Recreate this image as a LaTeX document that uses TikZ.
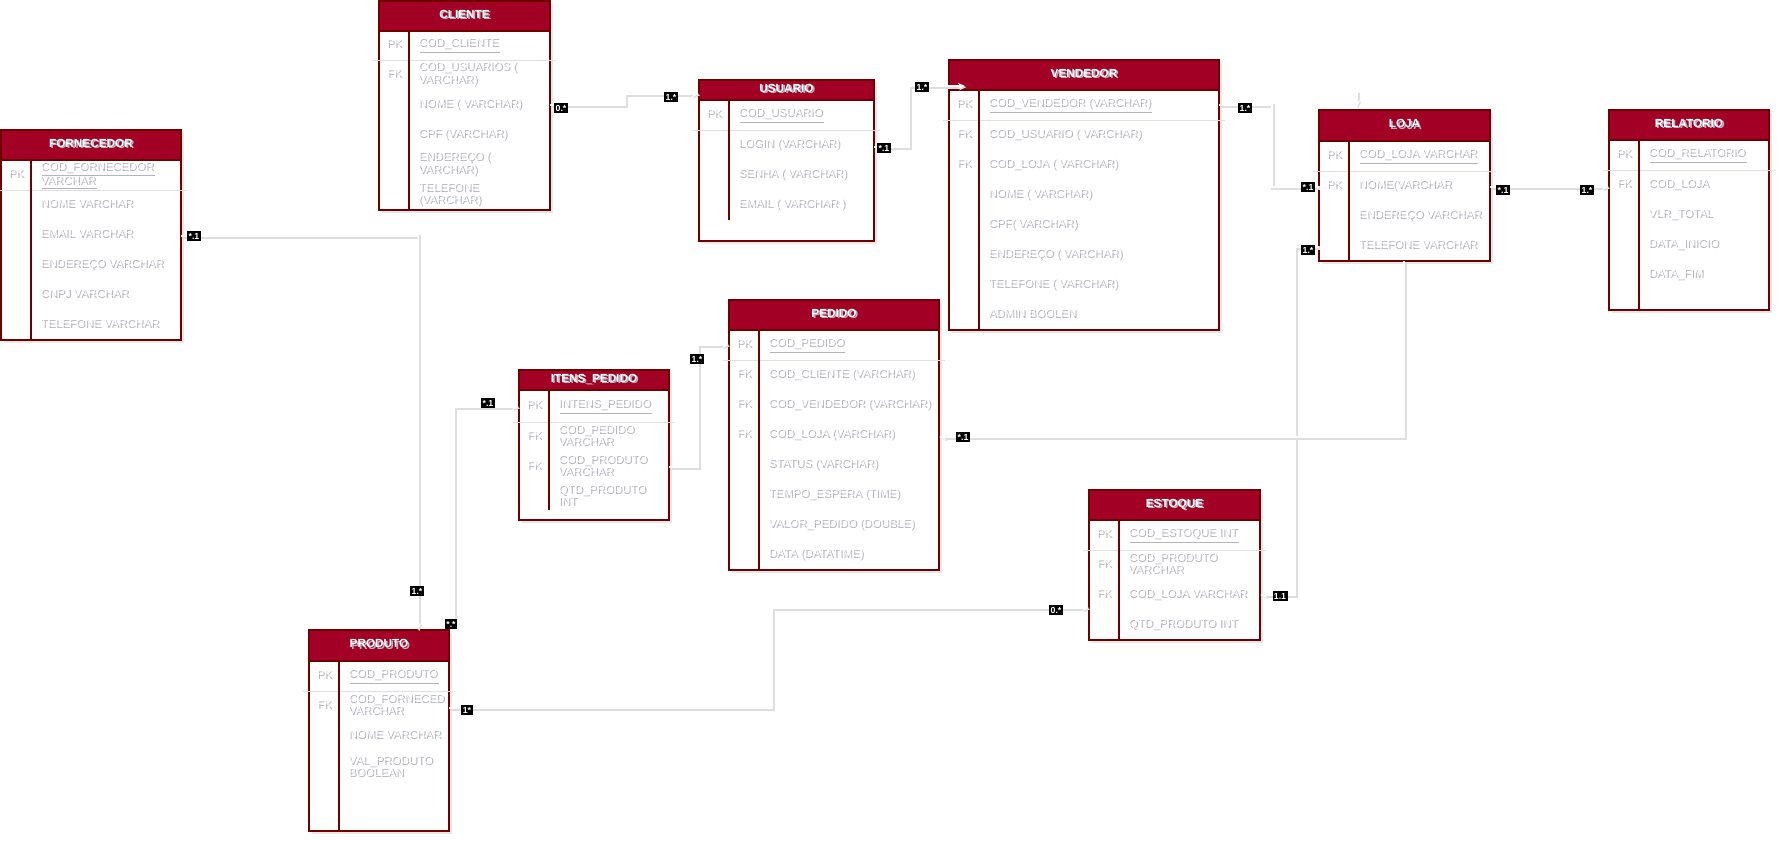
\documentclass[tikz,border=0pt]{standalone}
\usepackage{fontspec}
\setmainfont{Liberation Sans}
\usetikzlibrary{arrows.meta, shadows}
\definecolor{erred}{HTML}{A20025}
\definecolor{erborder}{HTML}{6F0000}
\definecolor{txtshadow}{HTML}{B4B4BE}

% text with a soft shadow under it
\newcommand\shtab[1]{\begin{tabular}{@{}l@{}}#1\end{tabular}}
\newcommand\sh[1]{\makebox[0pt][l]{\raisebox{-.9pt}{\kern.9pt\textcolor{txtshadow}{\shtab{#1}}}}\shtab{#1}}

% table frame: name, title, left, right, top, header bottom, key row bottom, bottom, divider end
\newcommand\ertable[9]{%
  \filldraw[tblbody] (#3,#5) rectangle (#4,#8);
  \filldraw[tblhead] (#3,#5) rectangle (#4,#6);
  \node[tbltitle] (#1) at ({(#3+#4)/2},{(#5+#6)/2}) {\sh{#2}};
  \draw[tblsep] ({#3-6},#7) -- ({#4+6},#7);
  \draw[tbldiv] ({#3+30},#6) -- ({#3+30},#9);
}
% table rows: name, key column x, list key/field/y
\newcommand\errows[3]{%
  \foreach \k/\f/\y [count=\i] in {#3} {
    \node[keytxt] (#1-k\i) at (#2,\y) {\sh{\k}};
    \node[fldtxt] (#1-\i) at ({#2+24},\y) {\sh{\f}};
  }
}

\begin{document}
\begin{tikzpicture}[x=0.02cm, y=-0.02cm,
  tblbody/.style={fill=white, draw=erborder, line width=.6pt,
    drop shadow={shadow xshift=1.5pt, shadow yshift=-1.5pt, opacity=.18}},
  tblhead/.style={fill=erred, draw=erborder, line width=.6pt},
  tbltitle/.style={text=white, font=\fontsize{6.7}{8}\selectfont\bfseries, inner sep=0pt},
  tblsep/.style={draw=black!12, line width=.5pt},
  tbldiv/.style={draw=erborder, line width=.6pt},
  keytxt/.style={text=white, font=\fontsize{6.3}{7.2}\selectfont, inner sep=0pt},
  fldtxt/.style={text=white, font=\fontsize{6.5}{7.2}\selectfont, inner sep=0pt, anchor=west},
  card/.style={fill=black, text=white, font=\fontsize{5}{5}\selectfont\bfseries,
    inner sep=.8pt, minimum height=6pt, minimum width=6.5pt},
  conn/.style={draw=white, line width=.9pt,
    preaction={draw=black!13, line width=2.2pt, transform canvas={xshift=.7pt, yshift=-.7pt}}},
  arr/.style={-{Stealth[length=4pt, width=3.5pt]}}]

% Background
\fill[white] (0,0) rectangle (1781,842);
\useasboundingbox (0,0) rectangle (1781,842);

% --- Tables ---

% CLIENTE
\ertable{cliente}{CLIENTE}{379}{550}{1}{31}{60}{210}{210}
\errows{cliente}{394}{PK/{\underline{COD\_CLIENTE}}/45, FK/{COD\_USUARIOS (\\VARCHAR)}/75,
  {}/{NOME ( VARCHAR)}/105, {}/{CPF (VARCHAR)}/135, {}/{ENDEREÇO (\\VARCHAR)}/165,
  {}/{TELEFONE\\(VARCHAR)}/195}

% FORNECEDOR
\ertable{fornecedor}{FORNECEDOR}{1}{181}{130}{160}{190}{340}{340}
\errows{fornecedor}{16}{PK/{\underline{COD\_FORNECEDOR}\\\underline{VARCHAR}}/175,
  {}/{NOME VARCHAR}/205, {}/{EMAIL VARCHAR}/235, {}/{ENDEREÇO VARCHAR}/265,
  {}/{CNPJ VARCHAR}/295, {}/{TELEFONE  VARCHAR}/325}

% USUARIO
\ertable{usuario}{USUARIO}{699}{874}{80}{100}{130}{241}{220}
\errows{usuario}{714}{PK/{\underline{COD\_USUARIO}}/115, {}/{LOGIN (VARCHAR)}/145,
  {}/{SENHA ( VARCHAR)}/175, {}/{EMAIL ( VARCHAR )}/205}

% VENDEDOR
\ertable{vendedor}{VENDEDOR}{949}{1219}{60}{90}{120}{330}{330}
\errows{vendedor}{964}{PK/{\underline{COD\_VENDEDOR (VARCHAR)}}/105,
  FK/{COD\_USUARIO ( VARCHAR)}/135, FK/{COD\_LOJA ( VARCHAR)}/165,
  {}/{NOME ( VARCHAR)}/195, {}/{CPF( VARCHAR)}/225, {}/{ENDEREÇO ( VARCHAR)}/255,
  {}/{TELEFONE ( VARCHAR)}/285, {}/{ADMIN BOOLEN}/315}

% LOJA
\ertable{loja}{LOJA}{1319}{1490}{110}{141}{171}{261}{261}
\errows{loja}{1334}{PK/{\underline{COD\_LOJA VARCHAR}}/156, PK/{NOME(VARCHAR}/186,
  {}/{ENDEREÇO VARCHAR}/216, {}/{TELEFONE VARCHAR}/246}

% RELATORIO
\ertable{relatorio}{RELATORIO}{1609}{1769}{110}{140}{170}{310}{310}
\errows{relatorio}{1624}{PK/{\underline{COD\_RELATORIO}}/155, FK/{COD\_LOJA}/185,
  {}/{VLR\_TOTAL}/215, {}/{DATA\_INICIO}/245, {}/{DATA\_FIM}/275}

% ITENS_PEDIDO
\ertable{itenspedido}{ITENS\_PEDIDO}{519}{669}{370}{390}{422}{520}{510}
\errows{itenspedido}{534}{PK/{\underline{INTENS\_PEDIDO}}/406, FK/{COD\_PEDIDO\\VARCHAR}/437,
  FK/{COD\_PRODUTO\\VARCHAR}/467, {}/{QTD\_PRODUTO\\INT}/497}

% PEDIDO
\ertable{pedido}{PEDIDO}{729}{939}{300}{330}{360}{570}{570}
\errows{pedido}{744}{PK/{\underline{COD\_PEDIDO}}/345, FK/{COD\_CLIENTE  (VARCHAR)}/375,
  FK/{COD\_VENDEDOR (VARCHAR)}/405, FK/{COD\_LOJA (VARCHAR)}/435,
  {}/{STATUS  (VARCHAR)}/465, {}/{TEMPO\_ESPERA (TIME)}/495,
  {}/{VALOR\_PEDIDO (DOUBLE)}/525, {}/{DATA (DATATIME)}/555}

% ESTOQUE
\ertable{estoque}{ESTOQUE}{1089}{1260}{490}{520}{550}{640}{640}
\errows{estoque}{1104}{PK/{\underline{COD\_ESTOQUE INT}}/535, FK/{COD\_PRODUTO\\VARCHAR}/565,
  FK/{COD\_LOJA VARCHAR}/595, {}/{QTD\_PRODUTO INT}/625}

% PRODUTO
\ertable{produto}{PRODUTO}{309}{449}{630}{661}{691}{831}{831}
\errows{produto}{324}{PK/{\underline{COD\_PRODUTO}}/676, FK/{COD\_FORNECED\\VARCHAR}/706,
  {}/{NOME VARCHAR}/736, {}/{VAL\_PRODUTO\\BOOLEAN}/768}

% --- Connector ends ---
\coordinate (cli-r) at (550,105);
\coordinate (usu-l) at (699,94);
\coordinate (usu-r) at (874,147);
\coordinate (ven-l) at (965,86);
\coordinate (ven-r) at (1219,105);
\coordinate (loj-l) at (1319,187);
\coordinate (loj-r) at (1490,187);
\coordinate (rel-l) at (1609,187);
\coordinate (loj-l2) at (1319,247);
\coordinate (est-r) at (1260,595);
\coordinate (loj-b) at (1404,261);
\coordinate (ped-r) at (939,437);
\coordinate (for-r) at (181,236);
\coordinate (pro-t) at (418,630);
\coordinate (pro-c) at (454,626);
\coordinate (itp-l) at (519,407);
\coordinate (itp-r) at (669,467);
\coordinate (ped-l) at (729,345);
\coordinate (pro-r) at (449,708);
\coordinate (est-l) at (1089,608);
\coordinate (loj-s) at (1357,92);
\coordinate (loj-t) at (1357,107);

% --- Connectors ---
\draw[conn, arr] (cli-r) -- ++(75,0) |- (usu-l);
\draw[conn, arr] (usu-r) -- ++(35,0) |- (ven-l);
\draw[conn] (ven-r) -- ++(53,0) |- (loj-l);
\draw[conn, arr] (loj-r) -- (rel-l);
\draw[conn, arr] (loj-l2) -- ++(-24,0) |- (est-r);
\draw[conn, arr] (loj-b) |- (ped-r);
\draw[conn, arr] (for-r) -| (pro-t);
\draw[conn, arr] (pro-c) |- (itp-l);
\draw[conn, arr] (itp-r) -- ++(29,0) |- (ped-l);
\draw[conn, arr] (pro-r) -- ++(323,0) |- (est-l);
\draw[conn, arr] (loj-s) -- (loj-t);

% --- Cardinalities ---
\node[card] (card1) at (561,108) {0.*};
\node[card] (card2) at (671,97) {1.*};
\node[card] (card3) at (884,148) {*.1};
\node[card] (card4) at (922,87) {1.*};
\node[card] (card5) at (1245,108) {1.*};
\node[card] (card6) at (1308,187) {*.1};
\node[card] (card7) at (1503,190) {*.1};
\node[card] (card8) at (1587,190) {1.*};
\node[card] (card9) at (1308,250) {1.*};
\node[card] (card10) at (1280,596) {1.1};
\node[card] (card11) at (963,437) {*.1};
\node[card] (card12) at (194,236) {*.1};
\node[card] (card13) at (417,591) {1.*};
\node[card] (card14) at (488,403) {*.1};
\node[card] (card15) at (451,624) {*.*};
\node[card] (card16) at (697,359) {1.*};
\node[card] (card17) at (467,710) {1*};
\node[card] (card18) at (1056,610) {0.*};

\end{tikzpicture}
\end{document}
